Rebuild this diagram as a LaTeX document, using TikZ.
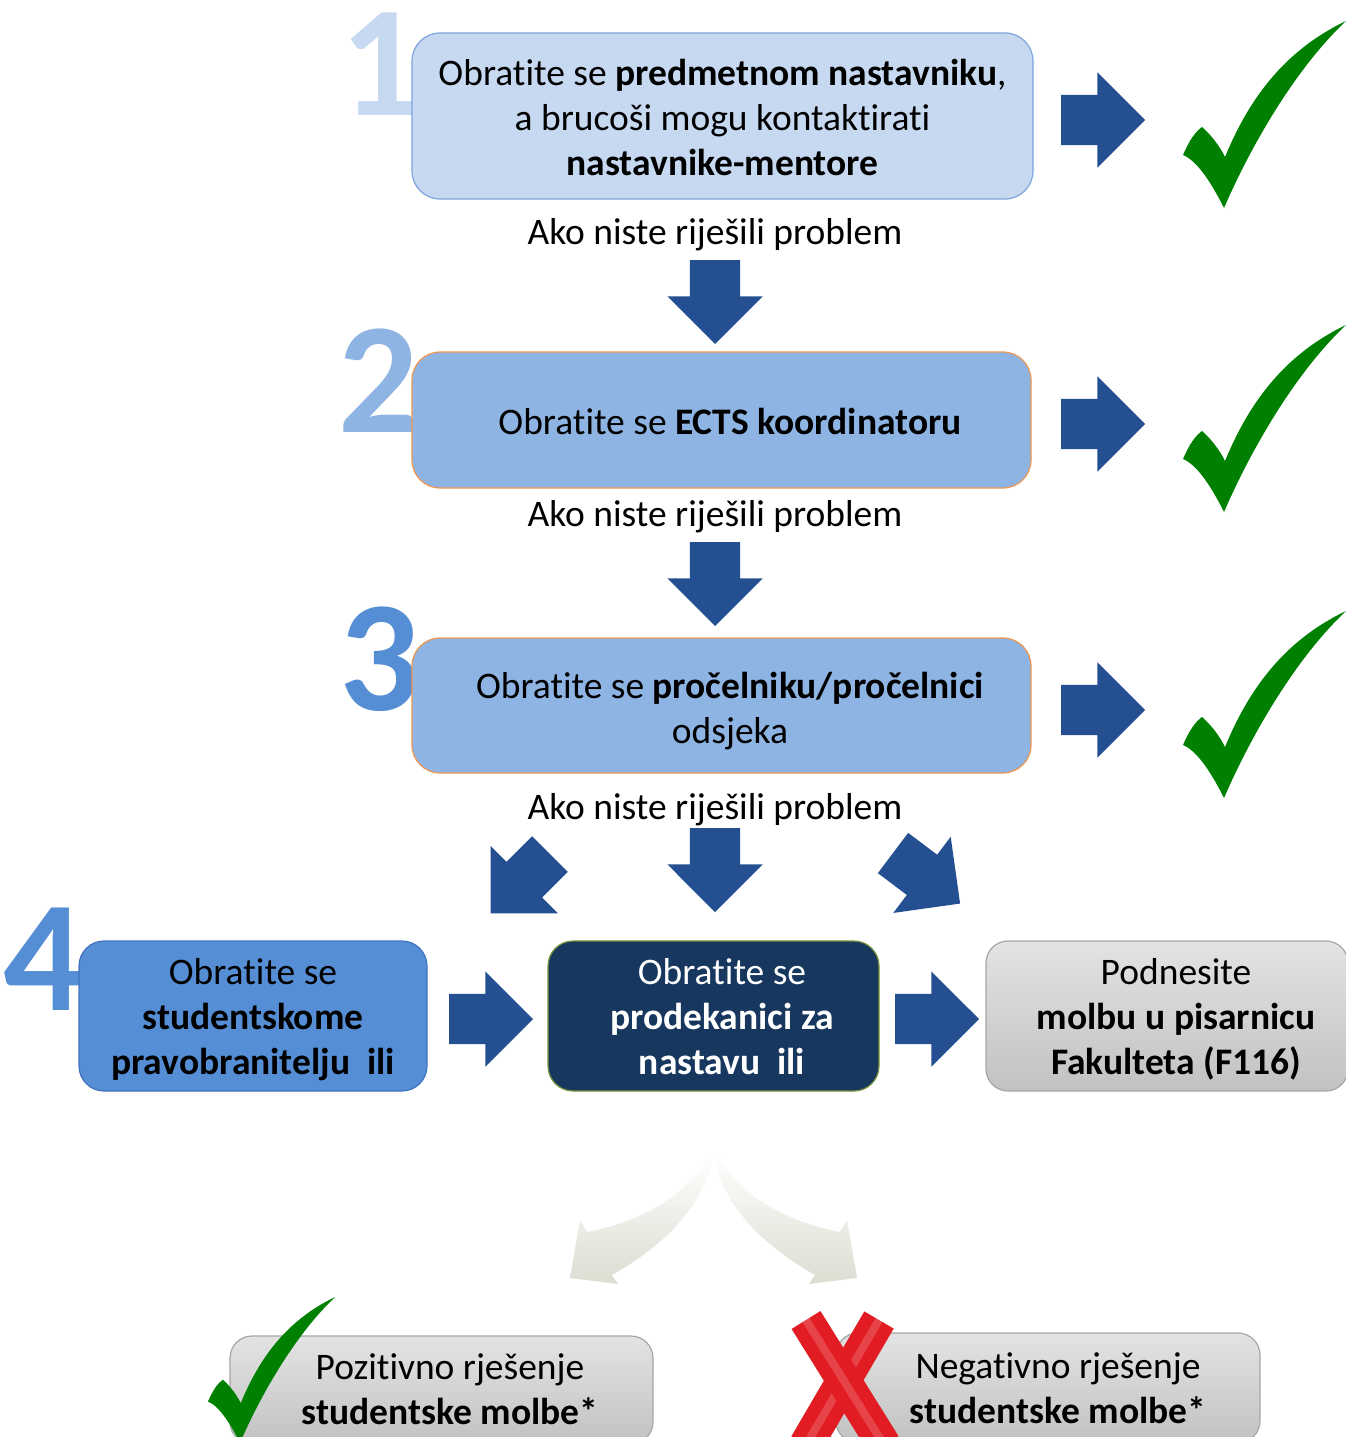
\documentclass[tikz,border=0pt]{standalone}
\usepackage{fontspec}
\setmainfont{Carlito}[Ligatures=NoCommon]
\usetikzlibrary{shapes.arrows}
\definecolor{arrowblue}{RGB}{36,80,146}
\definecolor{palebox}{RGB}{198,217,241}
\definecolor{paleedge}{RGB}{125,165,220}
\definecolor{midblue}{RGB}{142,180,227}
\definecolor{edgeorange}{RGB}{240,150,80}
\definecolor{bluebox}{RGB}{85,142,213}
\definecolor{blueedge}{RGB}{65,115,190}
\definecolor{navybox}{RGB}{23,55,94}
\definecolor{edgegreen}{RGB}{119,147,60}
\definecolor{tickgreen}{RGB}{0,128,0}
\definecolor{xred}{RGB}{225,28,34}
\definecolor{fadegray}{RGB}{221,221,210}
\tikzset{
    %Define style for boxes
    box/.style={
           rectangle,
           rounded corners=28pt,
           inner sep=0pt,
           line width=1.2pt},
    firstbox/.style={box, fill=palebox, draw=paleedge},
    midbox/.style={box, fill=midblue, draw=edgeorange},
    bluebox/.style={box, rounded corners=25pt, fill=bluebox, draw=blueedge},
    darkbox/.style={box, rounded corners=25pt, fill=navybox, draw=edgegreen},
    graybox/.style={box, rounded corners=22pt, top color=gray!22, bottom color=gray!48, draw=gray!70},
    % text in and under the boxes
    boxtext/.style={align=center, inner sep=0pt, font=\fontsize{37.5}{45}\selectfont},
    note/.style={font=\fontsize{37.5}{45}\selectfont, inner sep=0pt},
    % big step numbers
    digit/.style={font=\fontsize{158}{158}\selectfont\bfseries, inner sep=0pt, anchor=base},
    % Define block arrow style
    blockarrow/.style={
           single arrow,
           single arrow tip angle=90,
           single arrow head extend=22.5pt,
           minimum height=84pt,
           inner xsep=0pt, inner ysep=25pt, outer sep=0pt,
           fill=arrowblue, draw=none,
           anchor=tail},
    tick/.pic={
      \fill[tickgreen] (0,134) .. controls (6,120) and (12,111) .. (19,106)
        .. controls (28,114) and (36,124) .. (42,136)
        .. controls (65,80) and (100,30) .. (163,0)
        .. controls (115,45) and (70,120) .. (41,187)
        .. controls (30,165) and (15,140) .. (0,134) -- cycle;}
}
\begin{document}
\begin{tikzpicture}[x=1pt,y=-1pt]
\useasboundingbox (0,0) rectangle (1346,1437);
\clip (0,0) rectangle (1346,1437);
 %numbers
\node[digit, text=palebox] (d1) at (381,115) {1};
\node[digit, text=midblue] (d2) at (379,432) {2};
\node[digit, text=bluebox] (d3) at (380,710) {3};
\node[digit, text=bluebox] (d4) at (44,1010) {4};
 %steps
\node[firstbox, minimum width=621pt, minimum height=166pt] (b1) at (722.5,116) {};
\node[midbox, minimum width=619pt, minimum height=136pt] (b2) at (721.5,420) {};
\node[midbox, minimum width=619pt, minimum height=135pt] (b3) at (721.5,705.5) {};
\node[bluebox, minimum width=348pt, minimum height=150pt] (b4) at (253,1016) {};
\node[darkbox, minimum width=331pt, minimum height=150pt] (b5) at (713.5,1016) {};
\node[graybox, minimum width=362pt, minimum height=150pt] (b6) at (1167,1016) {};
\node[graybox, minimum width=423pt, minimum height=108pt] (pos) at (441.5,1390) {};
\node[graybox, minimum width=424pt, minimum height=110pt] (neg) at (1048,1388) {};
 %texts
\node[boxtext] (t1) at (722.5,117)
  {Obratite se \textbf{predmetnom nastavniku},\\a brucoši mogu kontaktirati\\\textbf{nastavnike-mentore}};
\node[boxtext] (t2) at (730,421) {Obratite se \textbf{ECTS koordinatoru}};
\node[boxtext] (t3) at (730,711) {Obratite se \textbf{pročelniku/pročelnici}\\odsjeka};
\node[boxtext] (t4) at (253,1020) {Obratite se\\\textbf{studentskome}\\\textbf{pravobranitelju\ \ ili}};
\node[boxtext, text=white] (t5) at (722,1017) {Obratite se\\\textbf{prodekanici za}\\\textbf{nastavu\ \ ili}};
\node[boxtext] (t6) at (1176,1019) {Podnesite\\\textbf{molbu u pisarnicu}\\\textbf{Fakulteta (F116)}};
\node[boxtext] (t7) at (450,1389) {Pozitivno rješenje\\\textbf{studentske molbe*}};
\node[boxtext] (t8) at (1058,1388) {Negativno rješenje\\\textbf{studentske molbe*}};
 %notes
\node[note] (n1) at (715,235) {Ako niste riješili problem};
\node[note] (n2) at (715,517) {Ako niste riješili problem};
\node[note] (n3) at (715,810) {Ako niste riješili problem};
 %arrows
\node[blockarrow] (r1) at (1061,120) {};
\node[blockarrow] (r2) at (1061,424) {};
\node[blockarrow] (r3) at (1061,710) {};
\node[blockarrow, rotate=-90] (a1) at (715,260) {};
\node[blockarrow, rotate=-90] (a2) at (715,542) {};
\node[blockarrow, rotate=-90] (a3) at (715,828) {};
\node[blockarrow, rotate=225] (a4) at (550,854) {};
\node[blockarrow, rotate=-37] (a5) at (893,853) {};
\node[blockarrow] (h1) at (449,1019) {};
\node[blockarrow] (h2) at (895,1019) {};
 %ticks
\pic at (1183,21) {tick};
\pic at (1183,325) {tick};
\pic at (1183,611) {tick};
\pic[scale=0.78] at (208,1297) {tick};
 %outcome arrows
\shade[top color=white, middle color=fadegray, bottom color=fadegray]
  (710,1152) .. controls (690,1195) and (640,1222) .. (587,1232) -- (580,1220)
  -- (570,1278) -- (618,1284) -- (612,1275)
  .. controls (665,1245) and (705,1205) .. (714,1153) -- cycle;
\shade[top color=white, middle color=fadegray, bottom color=fadegray]
  (717,1152) .. controls (737,1195) and (787,1222) .. (840,1232) -- (847,1220)
  -- (857,1278) -- (809,1284) -- (815,1275)
  .. controls (762,1245) and (722,1205) .. (713,1153) -- cycle;
 %red cross
\draw[line width=34pt, xred] (879,1320) -- (806,1445);
\draw[line width=8pt, white, opacity=.18] (879,1320) -- (806,1445);
\draw[line width=34pt, xred] (806,1320) -- (884,1445);
\draw[line width=8pt, white, opacity=.18] (806,1320) -- (884,1445);
\end{tikzpicture}
\end{document}
